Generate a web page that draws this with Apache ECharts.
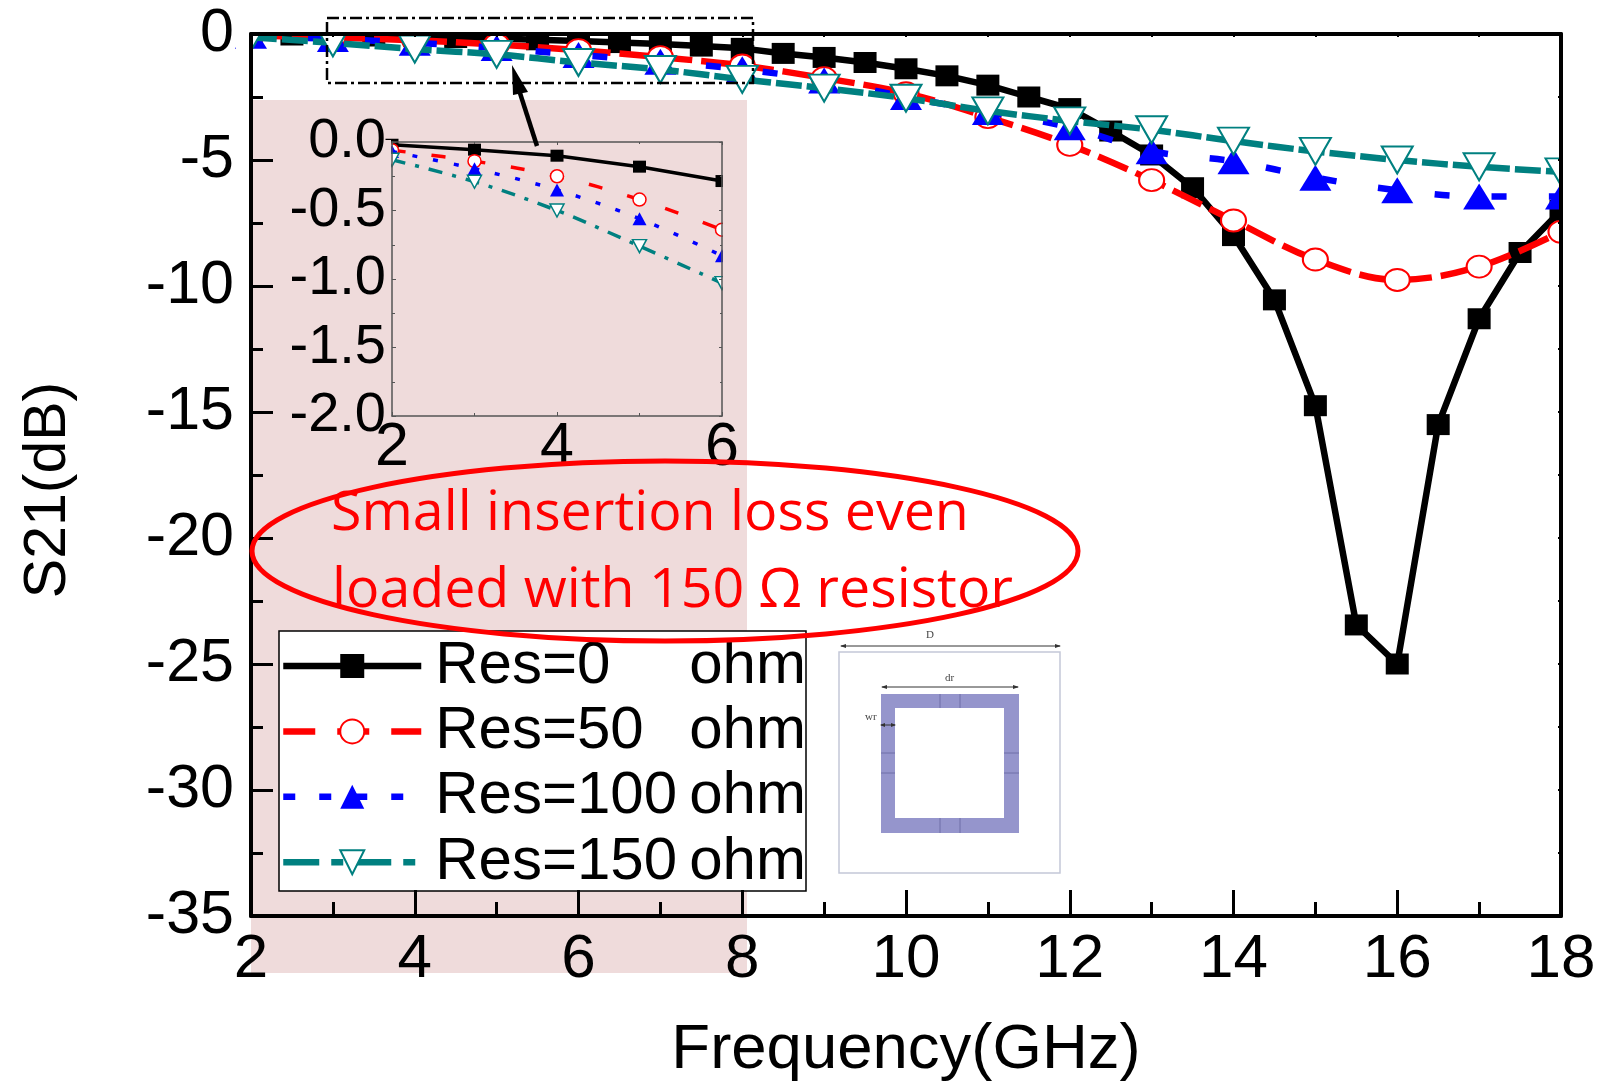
<!DOCTYPE html>
<html><head><meta charset="utf-8">
<style>html,body{margin:0;padding:0;background:#fff}#c{width:1602px;height:1082px}</style>
<script src="https://cdn.jsdelivr.net/npm/echarts@6/dist/echarts.min.js"></script>
</head><body><div id="c"></div>
<script>
const freqHalf=[2,2.5,3,3.5,4,4.5,5,5.5,6,6.5,7,7.5,8,8.5,9,9.5,10,10.5,11,11.5,12,12.5,13,13.5,14,14.5,15,15.5,16,16.5,17,17.5,18];
const freqWhole=[2,3,4,5,6,7,8,9,10,11,12,13,14,15,16,17,18];
const res0=[-0.03,-0.04,-0.06,-0.08,-0.1,-0.14,-0.18,-0.23,-0.28,-0.34,-0.4,-0.48,-0.57,-0.77,-0.93,-1.13,-1.38,-1.66,-2.03,-2.5,-2.96,-3.85,-4.8,-6.1,-8,-10.55,-14.75,-23.45,-25,-15.5,-11.3,-8.67,-7];
const res50=[-0.06,-0.14,-0.25,-0.42,-0.64,-0.92,-1.25,-1.75,-2.35,-3.3,-4.4,-5.8,-7.4,-8.95,-9.76,-9.23,-7.85];
const res100=[-0.07,-0.195,-0.35,-0.56,-0.83,-1.1,-1.4,-1.85,-2.5,-3.1,-3.7,-4.65,-5.05,-5.7,-6.2,-6.45,-6.45];
const res150=[-0.13,-0.35,-0.6,-0.81,-1.13,-1.41,-1.8,-2.15,-2.55,-3.05,-3.45,-3.8,-4.25,-4.66,-5,-5.27,-5.47];
const insetFreq=[2,3,4,5,6];
const inset0=[-0.02,-0.056,-0.1,-0.18,-0.285];
const inset50=[-0.06,-0.14,-0.25,-0.42,-0.64];
const inset100=[-0.07,-0.195,-0.35,-0.56,-0.83];
const inset150=[-0.13,-0.29,-0.5,-0.76,-1.03];
const names=['Res=0','Res=50','Res=100','Res=150'];
const pts=(xs,ys)=>xs.map((x,i)=>[x,ys[i]]);

const F='"Liberation Sans",Arial,sans-serif';
const C=['#000000','#ff0000','#0000ff','#008080'];
const PINK='#efdbdb';
const AZ=7;
function styl(i,k){
  const dash=[null,[32,9],[15,42],[26,5]][i];
  const dashIn=[null,[14,26],[5,16],[14,10,4,10]][i];
  return {
    lineStyle:{color:C[i],width:k===1?6.5:3.5,type:k===1?(dash||'solid'):(dashIn||'solid')},
    itemStyle:{color:i===0||i===2?C[i]:'#fff',borderColor:C[i],borderWidth:i===0||i===2?0:(k===1?2:1.5)},
    symbol:['rect','circle','triangle','triangle'][i],
    symbolRotate:i===3?180:0,
    smooth:i===0?false:0.35,
    symbolSize:k===1?[[23,21],[25,22],[32,26],[31,27]][i]:[[13,12],[13,13],[14,13],[14,13]][i],
    z:2+i,showSymbol:true,showAllSymbol:true,animation:false,clip:true
  };
}
const mainData=[pts(freqHalf,res0),pts(freqWhole,res50),pts(freqWhole,res100),pts(freqWhole,res150)];
const insetData=[pts(insetFreq,inset0),pts(insetFreq,inset50),pts(insetFreq,inset100),pts(insetFreq,inset150)];
const series=[];
names.forEach((n,i)=>series.push(Object.assign({type:'line',name:n,xAxisIndex:0,yAxisIndex:0,data:mainData[i]},styl(i,1))));
names.forEach((n,i)=>series.push(Object.assign({type:'line',name:n+' inset',xAxisIndex:2,yAxisIndex:2,data:insetData[i]},styl(i,0.5))));

const noLabel={show:false};
const lineBlack={show:true,onZero:false,lineStyle:{color:'#000',width:4}};
const lineInset={show:true,onZero:false,lineStyle:{color:'#555',width:1.5}};
const xAxes=[
 {gridIndex:0,type:'value',min:2,max:18,interval:2,z:AZ,position:'bottom',axisLine:lineBlack,
  axisTick:{show:true,inside:true,length:26,lineStyle:{color:'#000',width:3}},
  minorTick:{show:true,splitNumber:2,length:14,lineStyle:{color:'#000',width:3}},splitLine:{show:false},
  axisLabel:{color:'#000',fontFamily:F,fontSize:62,margin:13},
  name:'Frequency(GHz)',nameLocation:'middle',nameGap:102,nameTextStyle:{color:'#000',fontFamily:F,fontSize:63.5}},
 {gridIndex:0,type:'value',min:2,max:18,interval:2,z:AZ,position:'top',axisLine:lineBlack,
  axisTick:{show:true,inside:true,length:3,lineStyle:{color:'#000',width:2}},
  minorTick:{show:true,splitNumber:2,length:3,lineStyle:{color:'#000',width:2}},splitLine:{show:false},axisLabel:noLabel},
 {gridIndex:1,type:'value',min:2,max:6,interval:2,z:AZ,position:'bottom',axisLine:lineInset,
  axisTick:{show:true,inside:true,length:4,lineStyle:{color:'#555',width:1}},
  minorTick:{show:true,splitNumber:2,length:3,lineStyle:{color:'#555',width:1}},splitLine:{show:false},
  axisLabel:{color:'#000',fontFamily:F,fontSize:61,margin:2}},
 {gridIndex:1,type:'value',min:2,max:6,interval:2,z:AZ,position:'top',axisLine:lineInset,
  axisTick:{show:true,inside:true,length:3,lineStyle:{color:'#555',width:1}},
  minorTick:{show:true,splitNumber:2,length:2,lineStyle:{color:'#555',width:1}},splitLine:{show:false},axisLabel:noLabel}
];
const yAxes=[
 {gridIndex:0,type:'value',min:-35,max:0,interval:5,z:AZ,position:'left',axisLine:lineBlack,
  axisTick:{show:true,inside:true,length:22,lineStyle:{color:'#000',width:3}},
  minorTick:{show:true,splitNumber:2,length:12,lineStyle:{color:'#000',width:3}},splitLine:{show:false},
  axisLabel:{color:'#000',fontFamily:F,fontSize:61,margin:17},
  name:'S21(dB)',nameLocation:'middle',nameGap:173,nameTextStyle:{color:'#000',fontFamily:F,fontSize:59,padding:[0,30,0,0]}},
 {gridIndex:0,type:'value',min:-35,max:0,interval:5,z:AZ,position:'right',axisLine:lineBlack,
  axisTick:{show:true,inside:true,length:3,lineStyle:{color:'#000',width:2}},
  minorTick:{show:true,splitNumber:2,length:3,lineStyle:{color:'#000',width:2}},splitLine:{show:false},axisLabel:noLabel},
 {gridIndex:1,type:'value',min:-2,max:0,interval:0.5,z:AZ,position:'left',axisLine:lineInset,
  axisTick:{show:true,inside:true,length:4,lineStyle:{color:'#555',width:1}},
  minorTick:{show:true,splitNumber:2,length:3,lineStyle:{color:'#555',width:1}},splitLine:{show:false},
  axisLabel:{color:'#000',fontFamily:F,fontSize:56,margin:6,formatter:v=>v.toFixed(1)}},
 {gridIndex:1,type:'value',min:-2,max:0,interval:0.5,z:AZ,position:'right',axisLine:lineInset,
  axisTick:{show:true,inside:true,length:3,lineStyle:{color:'#555',width:1}},
  minorTick:{show:true,splitNumber:2,length:2,lineStyle:{color:'#555',width:1}},splitLine:{show:false},axisLabel:noLabel}
];
const rect=(x,y,w,h,fill,z,stroke,lw,dash)=>({type:'rect',shape:{x,y,width:w,height:h},z,silent:true,
  style:{fill:fill,stroke:stroke||null,lineWidth:lw||0,lineDash:dash||null}});
const seg=(x1,y1,x2,y2,col,lw,z)=>({type:'line',shape:{x1,y1,x2,y2},z,silent:true,style:{stroke:col,lineWidth:lw}});
const txt=(x,y,t,font,col,z)=>({type:'text',x,y,z,silent:true,style:{text:t,font,fill:col,textAlign:'left',textVerticalAlign:'middle'}});
const tri=(p,col,z)=>({type:'polygon',shape:{points:p},z,silent:true,style:{fill:col}});
const RING='#9595cc',RL='#6f6fa8',SZ=6;
const graphics=[
 rect(251,100,496,873,PINK,0),
 // masks that trim markers at the frame
 rect(0,0,1602,33,'#fff',6),
 rect(1562,0,40,280,'#fff',6),
 rect(236,33,14,50,'#fff',6),
 rect(723,140,14,280,PINK,6),
 rect(379,140,12,280,PINK,6),
 // legend box
 rect(279,631,527,260,'#fff',6,'#000',1.5),
 // unit cell
 rect(839,652,221,221,'#fff',SZ,'#c4c8d8',1.5),
 rect(881,694,138,139,RING,SZ),
 rect(895,708,109,110,'#fff',SZ),
 seg(940,694,940,708,RL,1,SZ),seg(960,694,960,708,RL,1,SZ),
 seg(940,818,940,833,RL,1,SZ),seg(960,818,960,833,RL,1,SZ),
 seg(881,753,895,753,RL,1,SZ),seg(881,773,895,773,RL,1,SZ),
 seg(1004,753,1019,753,RL,1,SZ),seg(1004,773,1019,773,RL,1,SZ),
 seg(841,646,1060,646,'#333',1,SZ),tri([[840,646],[846,644],[846,648]],'#333',SZ),tri([[1061,646],[1055,644],[1055,648]],'#333',SZ),
 seg(882,687,1018,687,'#333',1,SZ),tri([[881,687],[887,685],[887,689]],'#333',SZ),tri([[1019,687],[1013,685],[1013,689]],'#333',SZ),
 seg(881,725,895,725,'#333',1,SZ),tri([[880,725],[885,723],[885,727]],'#333',SZ),tri([[896,725],[891,723],[891,727]],'#333',SZ),
 txt(926,635,'D','11px "Liberation Serif"','#444',SZ),
 txt(945,678,'dr','11px "Liberation Serif"','#444',SZ),
 txt(865,717,'wr','11px "Liberation Serif"','#444',SZ),
 // zoom box and arrow
 rect(327,18,426,65,'transparent',9,'#000',2.5,[12,4,3,4]),
 seg(537,146,519,90,'#000',4.5,9),
 tri([[512,65],[513,95],[528,92]],'#000',9),
 // callout
 {type:'ellipse',shape:{cx:665,cy:551,rx:413,ry:90},z:9,silent:true,style:{fill:'transparent',stroke:'#ff0000',lineWidth:5}},
 txt(331,514,'Small insertion loss even','55.5px "Open Sans"','#ff0000',9),
 txt(332,591,'loaded with 150 \u03a9 resistor','55.5px "Open Sans"','#ff0000',9)
];

const legendDash=[null,[32,22],[12,24],[36,12,12,12]];
const chart=echarts.init(document.getElementById('c'),null,{renderer:'canvas'});
chart.setOption({
 animation:false,backgroundColor:'#fff',
 grid:[{left:251,top:34,width:1310,height:882,outerBoundsMode:'none'},{left:392,top:142,width:330,height:274,outerBoundsMode:'none'}],
 xAxis:xAxes,yAxis:yAxes,series,
 legend:{data:names.map((n,i)=>({name:n,lineStyle:{width:6.5,type:legendDash[i]||'solid',color:C[i]}})),
  selectedMode:false,orient:'vertical',left:279,top:636,padding:[0,0,0,1],z:8,
  itemWidth:138,itemHeight:30,itemGap:5.4,
  formatter:n=>'{a|'+n+'}{b|ohm}',
  textStyle:{rich:{
    a:{fontFamily:F,fontSize:60,color:'#000',width:254,height:52,lineHeight:52,padding:[0,0,0,9]},
    b:{fontFamily:F,fontSize:60,color:'#000',height:52,lineHeight:52}
  }}},
 graphic:{elements:graphics}
});
</script></body></html>
